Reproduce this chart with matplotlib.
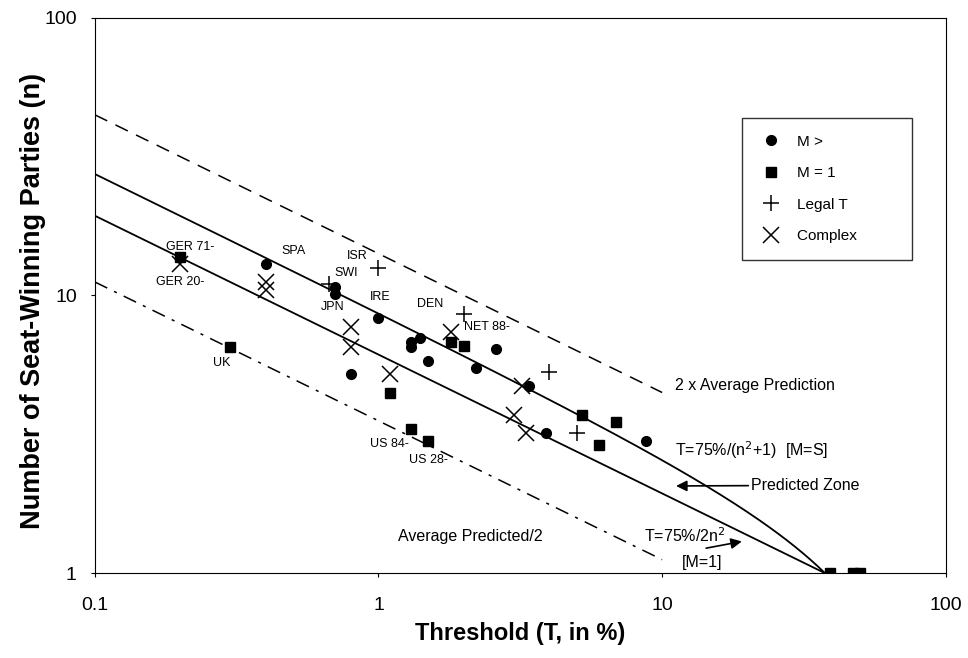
import numpy as np
import matplotlib
matplotlib.use("Agg")
import matplotlib.pyplot as plt

plt.rcParams['font.family'] = ['Liberation Sans', 'DejaVu Sans']

# M > 1 (circles)
circ_T = [0.4, 0.7, 0.7, 1.0, 0.8, 1.3, 1.3, 1.4, 1.5, 2.2, 2.6, 3.4, 3.9, 8.8]
circ_n = [13.0, 10.7, 10.1, 8.3, 5.2, 6.8, 6.5, 7.0, 5.8, 5.5, 6.4, 4.7, 3.2, 3.0]

# M = 1 (squares)
sq_T = [0.2, 0.3, 1.1, 1.3, 1.5, 1.8, 2.0, 5.2, 6.0, 6.9, 39, 47, 50]
sq_n = [13.8, 6.5, 4.45, 3.3, 3.0, 6.8, 6.6, 3.7, 2.9, 3.5, 1, 1, 1]

# Legal T (plus)
plus_T = [0.67, 1.0, 2.0, 4.0, 5.0]
plus_n = [11.0, 12.6, 8.6, 5.3, 3.2]

# Complex (x)
x_T = [0.2, 0.4, 0.4, 0.8, 0.8, 1.1, 1.8, 3.2, 3.0, 3.3]
x_n = [13.0, 11.2, 10.5, 7.7, 6.5, 5.2, 7.4, 4.7, 3.7, 3.2]

# country labels
lab_text = ['GER 71-', 'GER 20-', 'SPA', 'ISR', 'SWI', 'JPN', 'IRE', 'DEN', 'NET 88-', 'UK', 'US 84-', 'US 28-']
lab_T = [0.216, 0.2, 0.5, 0.84, 0.77, 0.69, 1.01, 1.52, 2.42, 0.28, 1.09, 1.5]
lab_n = [15.0, 11.2, 14.4, 13.9, 12.0, 9.05, 9.9, 9.3, 7.7, 5.7, 2.92, 2.56]

fig = plt.figure(figsize=(9.68, 6.58), dpi=100)
ax = fig.add_axes([0.098, 0.129, 0.879, 0.844])

# model lines
n_up = np.logspace(0, np.log10(np.sqrt(749)), 300)
ax.plot(75 / (n_up**2 + 1), n_up, color='black', lw=1.3)
n_lo = np.logspace(0, np.log10(np.sqrt(375)), 300)
ax.plot(75 / (2 * n_lo**2), n_lo, color='black', lw=1.3)
T_av = np.array([0.1, 10])
ax.plot(T_av, 2 * np.sqrt(50 / T_av), color='black', lw=1.1, dashes=(9, 6))
ax.plot(T_av, np.sqrt(50 / T_av) / 2, color='black', lw=1.1, dashes=(9, 5, 2, 5))

ax.plot(circ_T, circ_n, 'o', color='black', ms=7, ls='none', label='M >')
ax.plot(sq_T, sq_n, 's', color='black', ms=7.5, ls='none', label='M = 1')
ax.plot(plus_T, plus_n, '+', color='black', ms=12, mew=1.1, ls='none', label='Legal T')
ax.plot(x_T, x_n, 'x', color='black', ms=11, mew=1.1, ls='none', label='Complex' + ' ' * 9)

for t, x, y in zip(lab_text, lab_T, lab_n):
    ax.text(x, y, t, fontsize=9, ha='center', va='center')

fs = 11.5
ax.text(11.1, 4.73, '2 x Average Prediction', fontsize=fs, va='center')
ax.text(11.1, 2.78, 'T=75%/(n$^2$+1)  [M=S]', fontsize=fs, va='center')
ax.annotate('Predicted Zone', xy=(11.2, 2.06), xytext=(20.6, 2.07), fontsize=fs, va='center',
            arrowprops=dict(arrowstyle='-|>', color='black', lw=1.2, mutation_scale=16, shrinkA=0, shrinkB=0))
ax.text(1.17, 1.35, 'Average Predicted/2', fontsize=fs, va='center')
ax.text(8.65, 1.37, 'T=75%/2n$^2$', fontsize=fs, va='center')
ax.annotate('', xy=(19.1, 1.30), xytext=(14.3, 1.23),
            arrowprops=dict(arrowstyle='-|>', color='black', lw=1.2, mutation_scale=16, shrinkA=0, shrinkB=0))
ax.text(11.7, 1.09, '[M=1]', fontsize=fs, va='center')

ax.set_xscale('log')
ax.set_yscale('log')
ax.set_xlim(0.1, 100)
ax.set_ylim(1, 100)
ax.set_xticks([0.1, 1, 10, 100])
ax.set_xticklabels(['0.1', '1', '10', '100'])
ax.set_yticks([1, 10, 100])
ax.set_yticklabels(['1', '10', '100'])
ax.minorticks_off()
ax.tick_params(labelsize=14, length=3, pad=14)
ax.tick_params(axis='y', pad=10)

ax.set_xlabel('Threshold (T, in %)', fontsize=17, fontweight='bold')
ax.set_ylabel('Number of Seat-Winning Parties (n)', fontsize=19.5, fontweight='bold')
ax.xaxis.set_label_coords(0.5, -0.088)
ax.yaxis.set_label_coords(-0.057, 0.49)

leg = ax.legend(loc='upper right', bbox_to_anchor=(0.960, 0.820), frameon=True, fancybox=False,
                edgecolor='black', fontsize=11, labelspacing=1.15, borderpad=1.1, handletextpad=0.9,
                handlelength=1.6, borderaxespad=0)
leg.get_frame().set_linewidth(1.0)

fig.savefig('out.png', dpi=100)
